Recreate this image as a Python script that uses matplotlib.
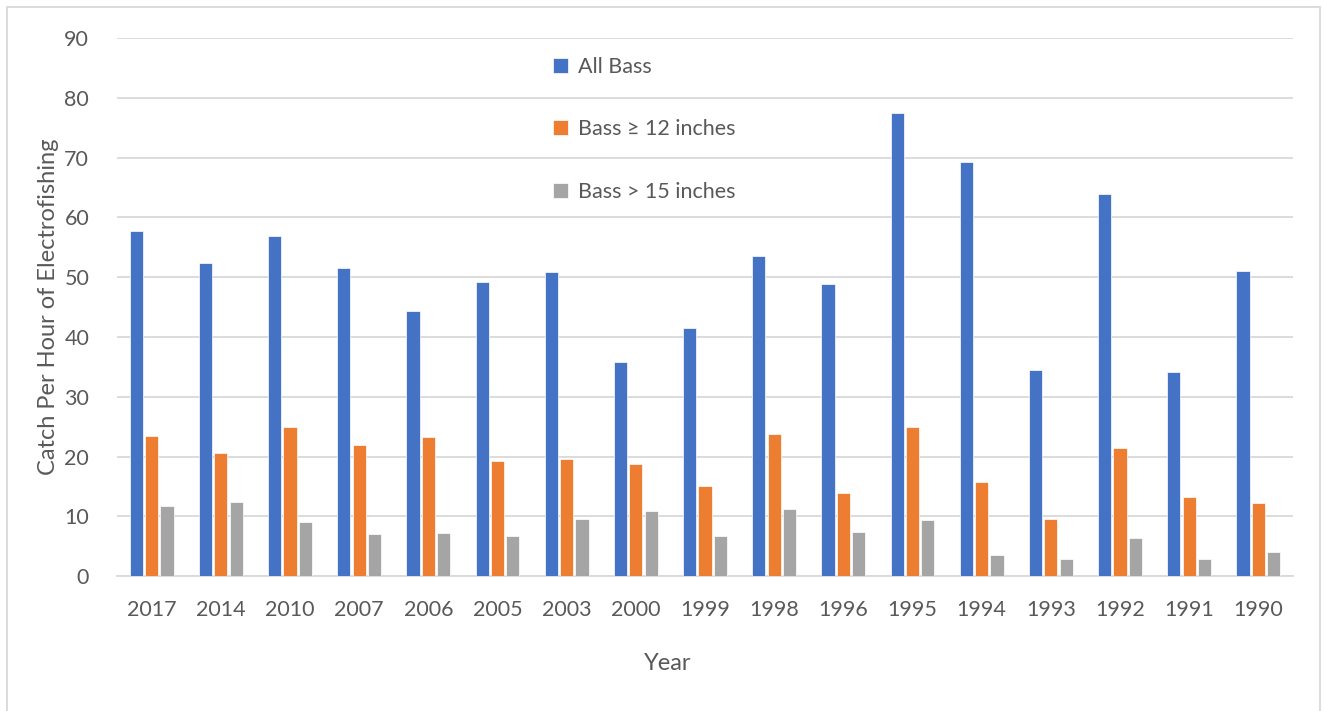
import numpy as np
import matplotlib.pyplot as plt
from matplotlib.patches import Rectangle

years = ['2017', '2014', '2010', '2007', '2006', '2005', '2003', '2000', '1999',
         '1998', '1996', '1995', '1994', '1993', '1992', '1991', '1990']
all_bass = [57.8, 52.4, 56.9, 51.5, 44.3, 49.2, 50.8, 35.9, 41.5,
            53.6, 48.9, 77.4, 69.3, 34.5, 64.0, 34.1, 51.1]
bass_12 = [23.4, 20.6, 24.9, 21.9, 23.3, 19.2, 19.6, 18.8, 15.1,
           23.8, 13.9, 25.0, 15.7, 9.5, 21.5, 13.2, 12.2]
bass_15 = [11.7, 12.4, 9.0, 7.0, 7.2, 6.8, 9.6, 10.9, 6.8,
           11.3, 7.4, 9.4, 3.6, 2.9, 6.4, 2.9, 4.1]

series = [('All Bass', all_bass, '#4472C4'),
          ('Bass \u2265 12 inches', bass_12, '#ED7D31'),
          ('Bass > 15 inches', bass_15, '#A5A5A5')]

plt.rcParams['font.family'] = ['Lato', 'DejaVu Sans']
txt = '#595959'
grid = '#D9D9D9'

fig = plt.figure(figsize=(13.24, 7.11), dpi=100)
# light frame round the whole chart
fig.patches.append(Rectangle((7/1324, -0.01), 1313/1324, 1 - 7/711 + 0.01,
                             transform=fig.transFigure, fill=False,
                             edgecolor=grid, linewidth=1.3))
ax = fig.add_axes([117/1324, 1 - 576.3/711, 1176/1324, (576.3 - 38)/711])

x = np.arange(len(years))
width = 0.19
step = 0.222
for i, (name, vals, col) in enumerate(series):
    ax.bar(x + (i - 1)*step, vals, width, color=col, label=name,
           edgecolor='white', linewidth=0.5, zorder=3)

ax.set_xlim(-0.5, len(years) - 0.5)
ax.set_ylim(0, 90)
ax.set_yticks(np.arange(0, 91, 10))
ax.set_xticks(x)
ax.set_xticklabels(years)
ax.yaxis.grid(True, color=grid, linewidth=1.3, zorder=0)
ax.set_axisbelow(True)
for s in ['top', 'right', 'left']:
    ax.spines[s].set_visible(False)
ax.spines['bottom'].set_color(grid)
ax.spines['bottom'].set_linewidth(1.3)
ax.tick_params(axis='both', length=0, labelsize=15.5, colors=txt)
ax.tick_params(axis='x', pad=17)
ax.tick_params(axis='y', pad=20)

ax.set_xlabel('Year', fontsize=17, color=txt, labelpad=24, x=0.4685)
ax.set_ylabel('Catch Per Hour of Electrofishing', fontsize=17, color=txt, labelpad=4)

leg = ax.legend(loc='upper left', bbox_to_anchor=(425/1176, 0.985), frameon=False,
                fontsize=15.5, handlelength=0.7, handleheight=0.7,
                handletextpad=0.45, labelspacing=1.98, borderpad=0)
for t in leg.get_texts():
    t.set_color(txt)

fig.savefig('out.png', dpi=100, facecolor='white')
